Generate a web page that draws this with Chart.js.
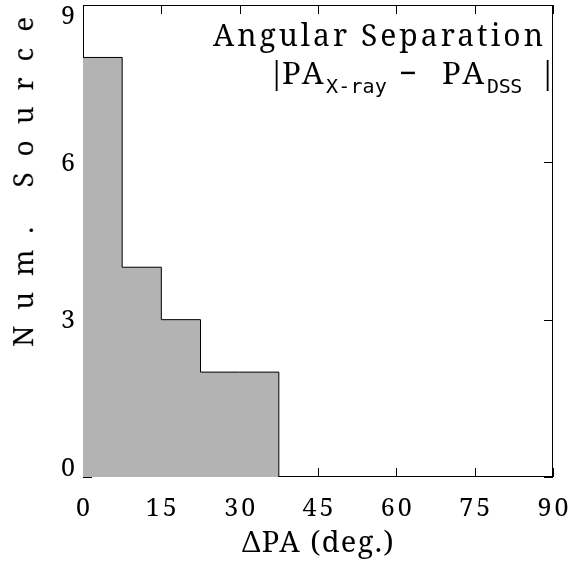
<!DOCTYPE html>
<html>
<head>
<meta charset="utf-8">
<style>
body{margin:0;background:#fff}
#wrap{position:relative;width:572px;height:562px}
#wrap div{position:absolute;left:0;top:0;white-space:nowrap;line-height:1;color:#000}
</style>
</head>
<body>
<div id="wrap">
<div id="xt0" style="font-family:'Noto Serif';font-size:25px">0</div>
<div id="xt1" style="font-family:'Noto Serif';font-size:25px">15</div>
<div id="xt2" style="font-family:'Noto Serif';font-size:25px">30</div>
<div id="xt3" style="font-family:'Noto Serif';font-size:25px">45</div>
<div id="xt4" style="font-family:'Noto Serif';font-size:25px">60</div>
<div id="xt5" style="font-family:'Noto Serif';font-size:25px">75</div>
<div id="xt6" style="font-family:'Noto Serif';font-size:25px">90</div>
<div id="yt0" style="font-family:'Noto Serif';font-size:25px">0</div>
<div id="yt1" style="font-family:'Noto Serif';font-size:25px">3</div>
<div id="yt2" style="font-family:'Noto Serif';font-size:25px">6</div>
<div id="yt3" style="font-family:'Noto Serif';font-size:25px">9</div>
<div id="xtitle" style="font-family:'Noto Serif';font-size:29px">ΔPA (deg.)</div>
<div id="ytitle" style="font-family:'Noto Serif';font-size:28px">Num. Sources</div>
<div id="t1" style="font-family:'Noto Serif';font-size:30px">Angular Separation</div>
<div id="bar1" style="font-family:'Noto Serif';font-size:31px">|</div>
<div id="pa1" style="font-family:'Noto Serif';font-size:31px">PA</div>
<div id="sub1" style="font-family:'DejaVu Sans Mono';font-size:20px">X-ray</div>
<div id="minus" style="font-family:'Noto Serif';font-size:31px">−</div>
<div id="pa2" style="font-family:'Noto Serif';font-size:31px">PA</div>
<div id="sub2" style="font-family:'DejaVu Sans Mono';font-size:20px">DSS</div>
<div id="bar2" style="font-family:'Noto Serif';font-size:31px">|</div>
<canvas id="histo" width="572" height="562"></canvas>
</div>
<script src="https://cdn.jsdelivr.net/npm/chart.js@4.4.1/dist/chart.umd.min.js"></script>
<script>
// histogram of |PA x-ray - PA dss|, bins of 7.5 deg
const binEdges = [0,7.5,15,22.5,30,37.5,45,52.5,60,67.5,75,82.5,90]
const counts = [8,4,3,2,2,0,0,0,0,0,0,0]
const xTicks = [0,15,30,45,60,75,90]
const yTicks = [0,3,6,9]

const SERIF_ASC = 0.888   // baseline from top of a line-height:1 box
const SUB_ASC = 0.846

// one point per bin edge, value held until the next edge
const steps = binEdges.map((e,i) => ({x: e, y: counts[Math.min(i, counts.length-1)]}))

const $ = id => document.getElementById(id)
function size(el){ return parseFloat(el.style.fontSize) }
function place(el, left, baseline, asc){
  el.style.left = left + 'px'
  el.style.top = (baseline - asc * size(el)) + 'px'
}
// spread the letters so the text runs from x0 to x1
function fit(el, x0, x1){
  el.style.letterSpacing = '0px'
  const w = el.getBoundingClientRect().width
  el.style.letterSpacing = ((x1 - x0 - w) / [...el.textContent].length) + 'px'
}
function fitAt(id, x0, x1, baseline, asc){
  const el = $(id)
  fit(el, x0, x1)
  place(el, x0, baseline, asc)
}

const framePlugin = {
  id: 'frame',
  beforeDatasetsDraw(chart){
    const ctx = chart.ctx
    const a = chart.chartArea
    const xs = chart.scales.x, ys = chart.scales.y
    ctx.save()
    ctx.strokeStyle = '#000'
    ctx.lineWidth = 1
    ctx.strokeRect(a.left + 0.5, a.top + 0.5, a.right - a.left - 1, a.bottom - a.top - 1)
    ctx.beginPath()
    xTicks.forEach(v => {
      const px = Math.round(xs.getPixelForValue(v)) + 0.5
      ctx.moveTo(px, a.bottom); ctx.lineTo(px, a.bottom - 9)
      ctx.moveTo(px, a.top); ctx.lineTo(px, a.top + 9)
    })
    yTicks.forEach(v => {
      const py = Math.round(ys.getPixelForValue(v)) + 0.5
      ctx.moveTo(a.left, py); ctx.lineTo(a.left + 9, py)
      ctx.moveTo(a.right, py); ctx.lineTo(a.right - 9, py)
    })
    ctx.stroke()
    ctx.restore()
  }
}

const chart = new Chart($('histo'), {
  type: 'line',
  data: {
    datasets: [{
      data: steps,
      stepped: 'before',
      fill: 'origin',
      backgroundColor: '#b3b3b3',
      borderColor: '#000',
      borderWidth: 1,
      pointRadius: 0
    }]
  },
  options: {
    responsive: false,
    animation: false,
    devicePixelRatio: 1,
    layout: {padding: {left: 83, right: 19, top: 5, bottom: 85}},
    plugins: {legend: {display: false}, tooltip: {enabled: false}},
    scales: {
      x: {type: 'linear', min: 0, max: 90, display: false},
      y: {min: 0, max: 9, display: false}
    }
  },
  plugins: [framePlugin]
})

function layoutText(){
  const xs = chart.scales.x, ys = chart.scales.y
  xTicks.forEach((v,i) => {
    const el = $('xt' + i)
    el.textContent = String(v)
    el.style.letterSpacing = '3px'
    const w = el.getBoundingClientRect().width - 3
    place(el, xs.getPixelForValue(v) - w / 2, 516, SERIF_ASC)
  })
  yTicks.forEach((v,i) => {
    const el = $('yt' + i)
    el.textContent = String(v)
    const w = el.getBoundingClientRect().width
    let py = ys.getPixelForValue(v) + 9
    if(i === 0) py -= 10
    if(i === yTicks.length-1) py += 10
    place(el, 75 - w, py, SERIF_ASC)
  })

  // axis titles
  fitAt('xtitle', 242, 395, 552, SERIF_ASC)
  const yt = $('ytitle')
  fit(yt, 0, 219)
  yt.style.transformOrigin = '0 0'
  yt.style.transform = 'translate(' + (33 - SERIF_ASC * 28) + 'px, 347px) rotate(-90deg)'

  // label in upper right
  fitAt('t1', 213, 546, 47, SERIF_ASC)
  place($('bar1'), 268, 85, SERIF_ASC)
  fitAt('pa1', 282, 326, 85, SERIF_ASC)
  fitAt('sub1', 326, 387, 93, SUB_ASC)
  place($('minus'), 399, 85, SERIF_ASC)
  fitAt('pa2', 442, 487, 85, SERIF_ASC)
  fitAt('sub2', 487, 522, 93, SUB_ASC)
  place($('bar2'), 539, 85, SERIF_ASC)
}
layoutText()
// widths change once the fonts are in
document.fonts.ready.then(layoutText)
window.addEventListener('load', layoutText)
</script>
</body>
</html>
